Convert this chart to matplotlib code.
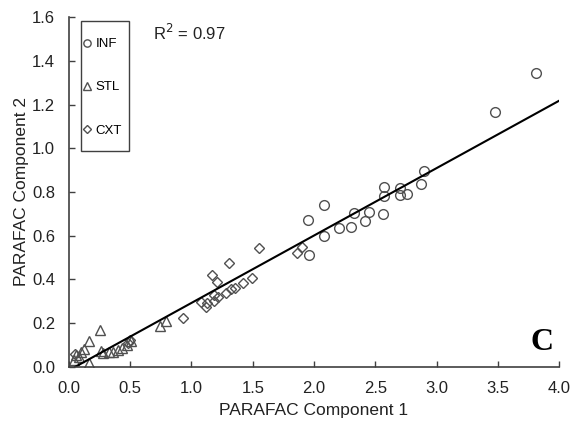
import matplotlib
matplotlib.use("Agg")
import matplotlib.pyplot as plt
from matplotlib.patches import Rectangle
import numpy as np

plt.rcParams['font.family'] = ['Liberation Sans', 'DejaVu Sans']

# data
inf_x = [3.81, 3.48, 2.90, 2.87, 2.70, 2.76, 2.70, 2.57, 2.57, 2.56, 2.45, 2.42,
         2.33, 2.30, 2.20, 2.08, 1.95, 2.08, 1.96]
inf_y = [1.344, 1.167, 0.897, 0.837, 0.818, 0.792, 0.786, 0.821, 0.783, 0.699, 0.707, 0.669,
         0.704, 0.639, 0.635, 0.739, 0.673, 0.597, 0.512]

stl_x = [0.04, 0.06, 0.08, 0.10, 0.12, 0.16, 0.16, 0.25, 0.26, 0.28, 0.33, 0.36,
         0.40, 0.43, 0.47, 0.51, 0.74, 0.79]
stl_y = [0.030, 0.055, 0.045, 0.070, 0.080, 0.120, 0.017, 0.170, 0.075, 0.065, 0.068, 0.070,
         0.078, 0.085, 0.100, 0.120, 0.187, 0.212]

cxt_x = [0.05, 0.48, 0.50, 0.93, 1.08, 1.12, 1.13, 1.18, 1.18, 1.22, 1.28, 1.32,
         1.355, 1.42, 1.49, 1.165, 1.21, 1.31, 1.55, 1.86, 1.90]
cxt_y = [0.060, 0.110, 0.125, 0.223, 0.299, 0.276, 0.291, 0.303, 0.329, 0.321, 0.340, 0.355,
         0.363, 0.383, 0.405, 0.421, 0.389, 0.475, 0.545, 0.523, 0.547]

fit_slope = 0.308
fit_icpt = -0.015
fit_range = [0.05, 4.0]
r2_text = "R$^2$ = 0.97"

fig = plt.figure(figsize=(5.73, 4.23), dpi=100)
ax = fig.add_axes([0.1204, 0.1324, 0.8552, 0.8274])

ec = '#505050'
ax.plot(inf_x, inf_y, 'o', ms=7, mfc='none', mec=ec, mew=1.0, ls='none', label='INF')
ax.plot(stl_x, stl_y, '^', ms=7.5, mfc='none', mec=ec, mew=1.0, ls='none', label='STL')
ax.plot(cxt_x, cxt_y, 'D', ms=5, mfc='none', mec=ec, mew=1.0, ls='none', label='CXT')

fx = np.array(fit_range)
ax.plot(fx, fit_slope * fx + fit_icpt, color='black', lw=1.5)

ax.set_xlim(0, 4.0)
ax.set_ylim(0, 1.6)
ax.set_xticks(np.arange(0, 4.01, 0.5))
ax.set_yticks(np.arange(0, 1.61, 0.2))
ax.xaxis.set_major_formatter(matplotlib.ticker.FormatStrFormatter('%.1f'))
ax.yaxis.set_major_formatter(matplotlib.ticker.FormatStrFormatter('%.1f'))
ax.tick_params(direction='in', length=4, width=1, color='#404040', labelsize=12,
               labelcolor='#222222', pad=10)

for s in ['top', 'right']:
    ax.spines[s].set_visible(False)
for s in ['left', 'bottom']:
    ax.spines[s].set_color('#404040')
    ax.spines[s].set_linewidth(1.2)

ax.set_xlabel('PARAFAC Component 1', fontsize=12.5, color='#222222', labelpad=5)
ax.set_ylabel('PARAFAC Component 2', fontsize=12.5, color='#222222', labelpad=2)

# legend: box drawn by hand, entries without frame
ax.add_patch(Rectangle((0.024, 0.618), 0.098, 0.371, transform=ax.transAxes,
                       fill=False, edgecolor='#404040', lw=1.0, zorder=5))
leg = ax.legend(loc='upper left', bbox_to_anchor=(0.027, 0.94), fontsize=9.5,
                frameon=False, labelspacing=2.35, borderpad=0, handletextpad=0.2,
                handlelength=0.8, markerscale=0.75, borderaxespad=0)

ax.text(0.171, 0.954, r2_text, transform=ax.transAxes, fontsize=12,
        va='center', ha='left', color='#222222')
ax.text(0.988, 0.07, 'C', transform=ax.transAxes, fontsize=23, fontweight='bold',
        family='Liberation Serif', va='center', ha='right')

fig.savefig('out.png', dpi=100)
